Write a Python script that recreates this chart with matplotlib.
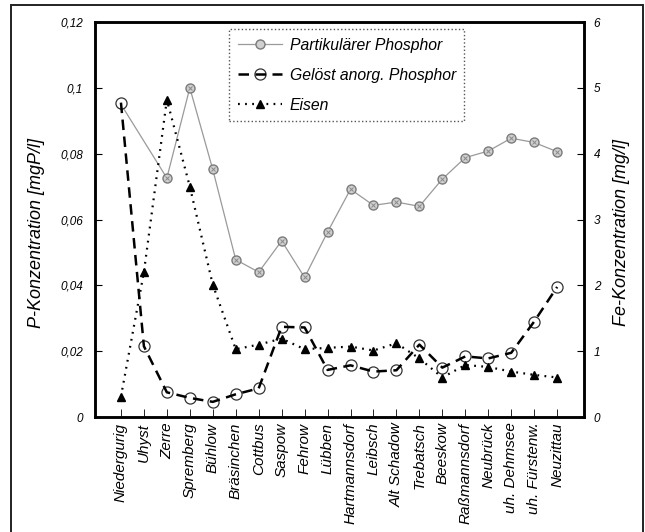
import numpy as np
import matplotlib
matplotlib.use("Agg")
import matplotlib.pyplot as plt
from matplotlib.legend_handler import HandlerTuple
from matplotlib.patches import Rectangle

plt.rcParams['font.family'] = ['Liberation Sans', 'DejaVu Sans']

stations = ["Niedergurig", "Uhyst", "Zerre", "Spremberg", "Bühlow", "Bräsinchen",
            "Cottbus", "Saspow", "Fehrow", "Lübben", "Hartmannsdorf", "Leibsch",
            "Alt Schadow", "Trebatsch", "Beeskow", "Raßmannsdorf", "Neubrück",
            "uh. Dehmsee", "uh. Fürstenw.", "Neuzittau"]

part_p = [0.0950, np.nan, 0.0726, 0.1000, 0.0752, 0.0478, 0.0440, 0.0535, 0.0424,
          0.0562, 0.0692, 0.0643, 0.0653, 0.0640, 0.0723, 0.0788, 0.0808, 0.0847,
          0.0834, 0.0806]
geloest_p = [0.0955, 0.0215, 0.0075, 0.0058, 0.0046, 0.0069, 0.0087, 0.0274, 0.0272,
             0.0143, 0.0157, 0.0138, 0.0142, 0.0220, 0.0150, 0.0184, 0.0178, 0.0195,
             0.0290, 0.0395]
eisen = [0.31, 2.20, 4.82, 3.50, 2.01, 1.03, 1.10, 1.19, 1.03, 1.05, 1.07, 1.01,
         1.12, 0.89, 0.60, 0.79, 0.76, 0.69, 0.64, 0.60]

left_ticks = [0, 0.02, 0.04, 0.06, 0.08, 0.1, 0.12]
left_ticklabels = ["0", "0,02", "0,04", "0,06", "0,08", "0,1", "0,12"]
right_ticks = [0, 1, 2, 3, 4, 5, 6]
right_ticklabels = ["0", "1", "2", "3", "4", "5", "6"]

W, H = 645, 532
fig = plt.figure(figsize=(W / 100, H / 100), dpi=100)

# outer frame
fig.patches.append(Rectangle((11 / W, -0.05), (643 - 11) / W, 1.05 - 5 / H,
                             transform=fig.transFigure, fill=False,
                             edgecolor='#222222', linewidth=1.4))

ax = fig.add_axes([95 / W, (H - 417) / H, 489 / W, 395 / H])
ax2 = ax.twinx()

x = np.arange(len(stations))
pp = np.array(part_p, dtype=float)
m = ~np.isnan(pp)

l1, = ax.plot(x[m], pp[m], color='#9a9a9a', lw=0.9, marker='o', ms=6.5,
              mfc='#d0d0d0', mec='#7a7a7a', mew=1.0, zorder=3)
ax.plot(x[m], pp[m], ls='none', marker='x', ms=3.5, mec='#8a8a8a', mew=0.7, zorder=4)

gp = np.array(geloest_p, dtype=float)
m2, = ax.plot(x, gp, ls='none', marker='o', ms=8, mfc='white', mec='#333333',
              mew=0.9, zorder=4)
l2, = ax.plot(x, gp, color='black', lw=1.8, dashes=(4.2, 2.6), zorder=5)

l3, = ax2.plot(x, eisen, color='black', lw=1.6, dashes=(0.8, 2.4),
               marker='^', ms=6, mfc='black', mec='black', zorder=3)

ax.set_xlim(-1.13, 20.17)
ax.set_ylim(0, 0.12)
ax2.set_ylim(0, 6)

ax.set_yticks(left_ticks)
ax.set_yticklabels(left_ticklabels, fontsize=8.5, style='italic')
ax2.set_yticks(right_ticks)
ax2.set_yticklabels(right_ticklabels, fontsize=8.5, style='italic')
ax.set_xticks(x)
ax.set_xticklabels(stations, rotation=90, fontsize=11, style='italic')

ax.tick_params(axis='y', direction='in', length=5, width=0.8, pad=8.5)
ax2.tick_params(axis='y', direction='in', length=5, width=0.8, pad=7)
ax.tick_params(axis='x', direction='in', length=6, width=0.6, pad=4)

for a in (ax, ax2):
    for s in a.spines.values():
        s.set_linewidth(1.8)
        s.set_color('black')

fig.text(37 / W, 1 - 233 / H, "P-Konzentration [mgP/l]", rotation=90,
         ha='center', va='center', fontsize=13, style='italic')
fig.text(622 / W, 1 - 232 / H, "Fe-Konzentration [mg/l]", rotation=90,
         ha='center', va='center', fontsize=13, style='italic')

leg = ax2.legend([l1, (m2, l2), l3],
                 ["Partikulärer Phosphor", "Gelöst anorg. Phosphor", "Eisen"],
                 handler_map={tuple: HandlerTuple(ndivide=1, pad=0)},
                 loc='upper left', bbox_to_anchor=(0.268, 0.99),
                 prop={'size': 11.3, 'style': 'italic'}, handlelength=2.8,
                 labelspacing=0.95, borderpad=0.55, handletextpad=0.5,
                 borderaxespad=0.2, fancybox=False, framealpha=1)
fr = leg.get_frame()
fr.set_linestyle(':')
fr.set_edgecolor('#555555')
fr.set_linewidth(1.0)

fig.savefig("out.png", dpi=100)
